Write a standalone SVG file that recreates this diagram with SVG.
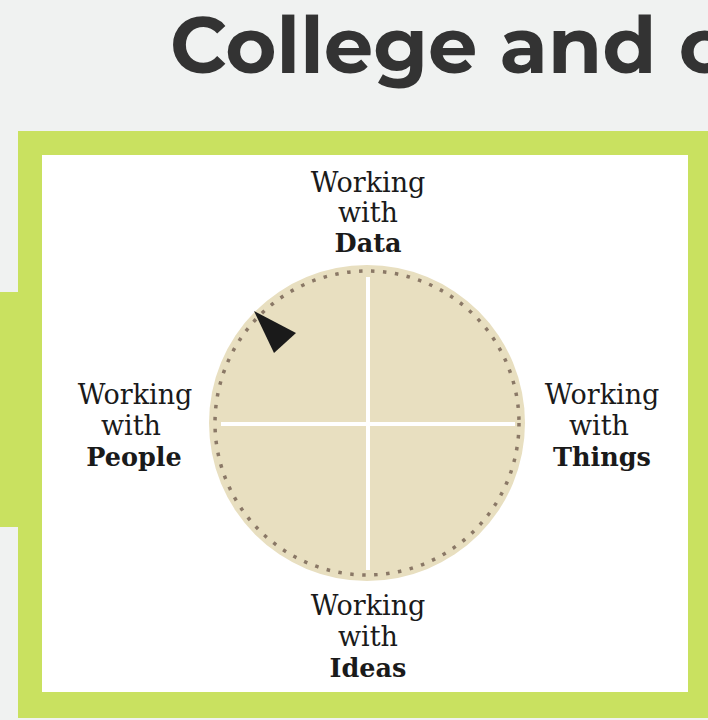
<svg xmlns="http://www.w3.org/2000/svg" width="708" height="720" viewBox="0 0 708 720">
<style>
.lbl{font-family:"DejaVu Serif","Liberation Serif",serif;font-size:27px;fill:#1a1a1a;text-anchor:middle}
.b{font-weight:bold;font-size:25.5px}
.title{font-family:Montserrat,Inter,"Open Sans",sans-serif;font-weight:bold;font-size:78px;fill:#333333}
</style>
<rect x="0" y="0" width="708" height="720" fill="#f0f2f1"/>
<text class="title" x="170" y="73" textLength="555" lengthAdjust="spacingAndGlyphs">College and c</text>
<rect x="0" y="292" width="30" height="235" fill="#c9e160"/>
<rect x="18" y="131" width="700" height="587" fill="#c9e160"/>
<rect x="42" y="155" width="646" height="537" fill="#ffffff"/>
<g id="wheel">
<circle cx="367" cy="423" r="158" fill="#e8dfc0"/>
<circle cx="367" cy="423" r="152" fill="none" stroke="#8a7866" stroke-width="3.5" stroke-dasharray="3.5 8.5"/>
</g>
<g id="connectors">
<line x1="368" y1="277" x2="368" y2="570" stroke="#ffffff" stroke-width="4"/>
<line x1="221" y1="424" x2="515" y2="424" stroke="#ffffff" stroke-width="4"/>
<polygon points="254,311 296,333 274,353" fill="#1a1a1a"/>
</g>
<g id="data">
<text class="lbl" x="368" y="192">Working</text>
<text class="lbl" x="368" y="222">with</text>
<text class="lbl b" x="368" y="252">Data</text>
</g>
<g id="people">
<text class="lbl" x="135" y="404">Working</text>
<text class="lbl" x="131" y="435">with</text>
<text class="lbl b" x="134" y="466">People</text>
</g>
<g id="things">
<text class="lbl" x="602" y="404">Working</text>
<text class="lbl" x="599" y="435">with</text>
<text class="lbl b" x="602" y="466">Things</text>
</g>
<g id="ideas">
<text class="lbl" x="368" y="615">Working</text>
<text class="lbl" x="368" y="646">with</text>
<text class="lbl b" x="368" y="677">Ideas</text>
</g>
</svg>
